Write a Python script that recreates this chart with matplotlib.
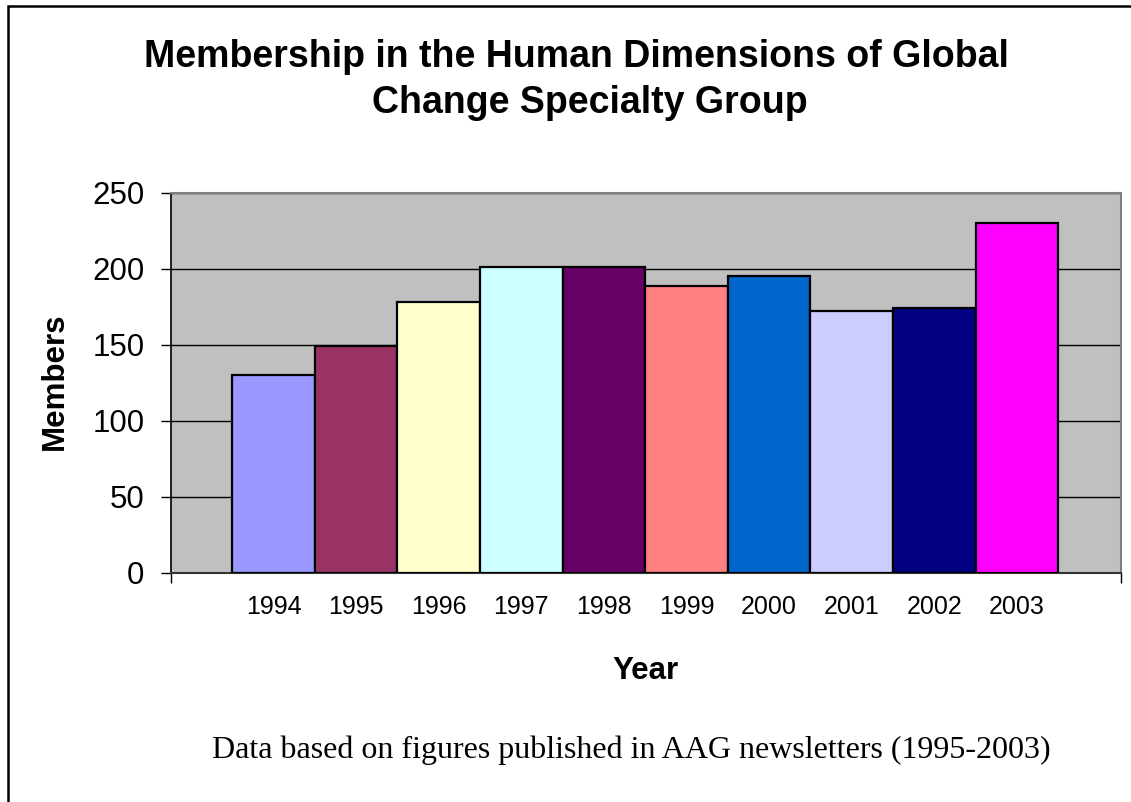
import matplotlib
matplotlib.use("Agg")
import matplotlib.pyplot as plt
from matplotlib.patches import Rectangle

# data
years = ['1994', '1995', '1996', '1997', '1998', '1999', '2000', '2001', '2002', '2003']
members = [130, 149, 178, 201, 201, 189, 195, 172, 174, 230]
colors = ['#9999FF', '#993366', '#FFFFCC', '#CCFFFF', '#660066',
          '#FF8080', '#0066CC', '#CCCCFF', '#000080', '#FF00FF']
yticks = [0, 50, 100, 150, 200, 250]

plt.rcParams['font.family'] = ['Liberation Sans', 'DejaVu Sans']

W, H = 1131, 802
fig = plt.figure(figsize=(W / 100, H / 100), dpi=100)

# outer chart frame (right/bottom fall off the picture)
fig.patches.append(Rectangle((8 / W, -0.05), 1.2, 1 - 6 / H + 0.05,
                             transform=fig.transFigure, fill=False,
                             edgecolor='black', linewidth=1.8))

ax = fig.add_axes([171 / W, 1 - 572.5 / H, 950 / W, (572.5 - 193) / H])
ax.set_facecolor('#C0C0C0')

x = list(range(len(years)))
ax.bar(x, members, width=1.0, color=colors, edgecolor='black', linewidth=1.6, zorder=3)

ax.set_xlim(-1.242, 10.26)
ax.set_ylim(0, 250)
ax.set_yticks(yticks)
ax.set_yticklabels([str(v) for v in yticks], fontsize=22.5)
ax.tick_params(axis='y', direction='out', length=7, width=1, pad=12)

ax.set_xticks(x)
ax.set_xticklabels(years, fontsize=18)
ax.tick_params(axis='x', length=0, pad=16)
ax.set_xticks([-1.242, 10.26], minor=True)
ax.tick_params(axis='x', which='minor', direction='out', length=7, width=1,
               color='black')

ax.set_axisbelow(True)
ax.yaxis.grid(True, color='black', linewidth=1)

for s in ['top', 'right']:
    ax.spines[s].set_color('#808080')
    ax.spines[s].set_linewidth(1.5)
ax.spines['left'].set_color('black')
ax.spines['bottom'].set_color('#333333')
ax.spines['left'].set_linewidth(1.2)
ax.spines['bottom'].set_linewidth(1.5)

# titles and labels
fig.text(576 / W, 1 - 67 / H, 'Membership in the Human Dimensions of Global',
         ha='center', va='baseline', fontsize=27, fontweight='bold')
fig.text(590 / W, 1 - 113 / H, 'Change Specialty Group',
         ha='center', va='baseline', fontsize=27, fontweight='bold')
fig.text(645 / W, 1 - 671 / H, 'Year', ha='center', va='center',
         fontsize=22.5, fontweight='bold')
fig.text(55 / W, 1 - 381 / H, 'Members', ha='center', va='center',
         rotation=90, fontsize=22.5, fontweight='bold')
fig.text(631 / W, 1 - 758 / H,
         'Data based on figures published in AAG newsletters (1995-2003)',
         ha='center', va='baseline', fontsize=23, family='Liberation Serif')

fig.savefig('out.png', dpi=100)
